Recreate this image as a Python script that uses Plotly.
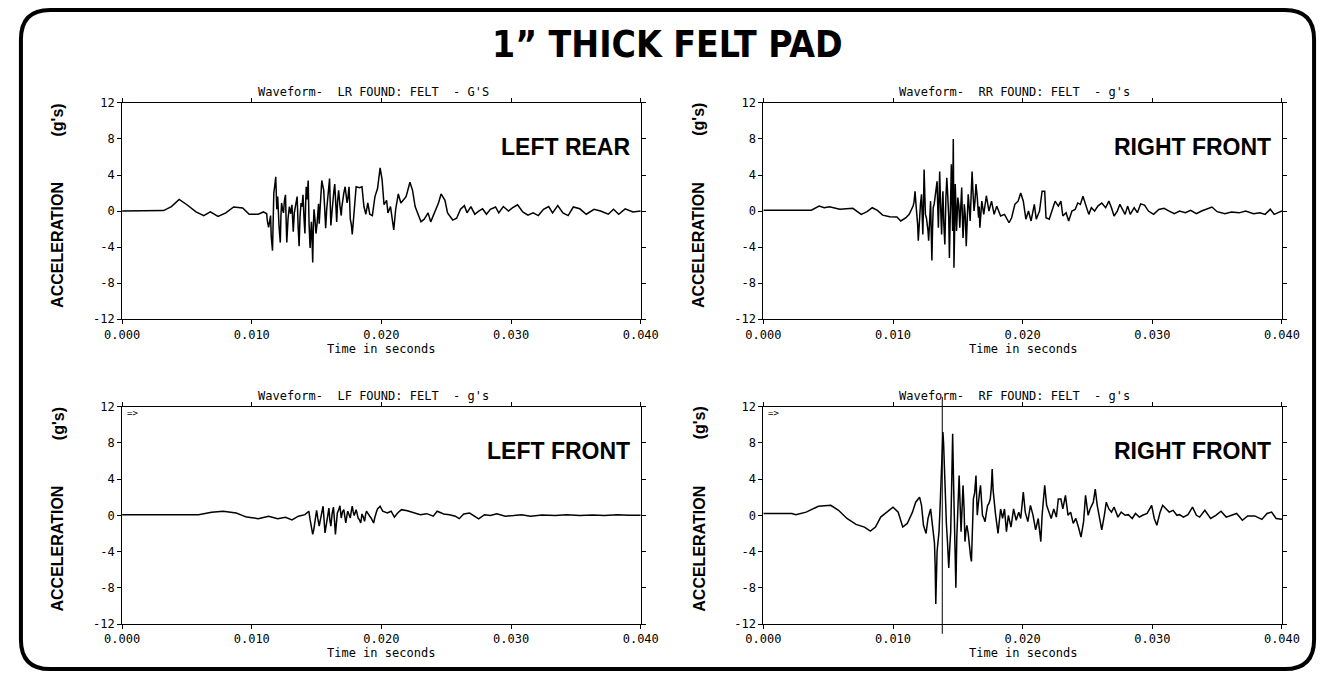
import plotly.graph_objects as go

# ---------------- data (time in ms, acceleration in g) ----------------
LR_T_MS = [0, 3.2, 3.8, 4.4, 5.0, 5.7, 6.3, 6.8, 7.4, 8.0, 8.6, 9.3, 9.8, 10.5, 10.9, 11.2, 11.3, 11.45, 11.6, 11.7,
           11.85, 12.0, 12.1, 12.2, 12.3, 12.45, 12.6, 12.7, 12.9, 13.1, 13.2, 13.35, 13.5, 13.65, 13.8, 13.95, 14.1,
           14.2, 14.35, 14.5, 14.6, 14.7, 14.8, 14.95, 15.1, 15.2, 15.4, 15.55, 15.7, 15.85, 16.0, 16.1, 16.25, 16.4,
           16.55, 16.7, 16.9, 17.0, 17.2, 17.35, 17.5, 17.6, 17.75, 17.9, 18.05, 18.3, 18.5, 18.65, 18.8, 18.95, 19.1,
           19.3, 19.5, 19.7, 19.9, 20.05, 20.2, 20.4, 20.5, 20.7, 20.95, 21.1, 21.3, 21.5, 21.7, 21.9, 22.2, 22.4, 22.6,
           22.85, 23.05, 23.3, 23.6, 23.8, 24.1, 24.4, 24.6, 24.9, 25.1, 25.5, 25.8, 26.1, 26.4, 26.6, 26.9, 27.2, 27.5,
           27.8, 28.1, 28.4, 28.8, 29.05, 29.4, 29.8, 30.1, 30.5, 30.9, 31.3, 31.7, 32.1, 32.5, 32.9, 33.2, 33.6, 34.0,
           34.4, 34.8, 35.3, 35.8, 36.4, 36.9, 37.5, 37.9, 38.3, 38.8, 39.4, 40.0]
LR_G = [0, 0.05, 0.5, 1.3, 0.7, -0.1, -0.5, -0.1, -0.6, -0.2, 0.45, 0.35, -0.35, -0.35, -0.1, -1.1, -1.8, -0.5, -4.4, 2.0,
        3.8, 1.6, -1.6, -3.5, 0.9, -0.2, 1.8, -3.5, 0.5, 0.7, -2.3, 0.5, 1.6, -3.9, 0.9, 1.8, -2.5,
        2.7, 3.4, -4.1, -1.2, -5.7, 0.2, -2.5, -0.2, -1.4, 3.4, 2.3, -1.9, 1.6, 3.6, -1.6, 1.6, 3.0,
        -1.2, 2.3, -0.5, 1.2, 2.7, 0.9, 2.7, -0.9, -2.6, -0.2, 2.7, 2.6, 2.7, 0.5, -0.35, 0.9, -0.35,
        -0.5, 1.6, 2.5, 4.8, 3.5, 0.7, 1.2, -0.2, 0.5, -2.1, 0.2, 1.9, 0.9, 1.2, 1.6, 3.2, 2.3, 0.5,
        -0.5, -1.2, -0.9, -0.2, -1.2, -0.2, 0.9, 1.9, 1.2, -0.2, -1.0, -0.8, 0.2, 0.6, -0.2, 0.5, -0.35, 0.0,
        0.25, -0.35, 0.2, 0.45, -0.2, 0.5, 0.0, 0.35, 0.7, -0.1, -0.45, -0.2, -0.5, 0.2, 0.5, -0.2, 0.6, -0.2,
        -0.5, 0.45, 0.25, -0.35, 0.2, 0.0, -0.35, 0.2, -0.35, 0.25, -0.1, 0.0]
# finer oscillations read inside the dense band of the LR trace
LR_DETAIL_T_MS = [11.15, 11.5, 11.65, 11.78, 11.93, 12.15, 12.25, 12.38, 12.52, 12.65, 12.8, 13.0, 13.15, 13.28,
                  13.42, 13.58, 13.72, 13.88, 14.03, 14.15, 14.28, 14.42, 14.55, 14.65, 14.75, 14.88, 15.03, 15.15,
                  15.3, 15.48, 15.62, 15.78, 15.93, 16.05, 16.18, 16.33, 16.48, 16.62, 16.8, 16.95, 17.1, 17.28,
                  17.42, 17.55, 17.68, 17.83, 17.98]
LR_DETAIL_G = [-0.3, -2.8, -1.0, 2.9, 0.2, -2.7, -0.5, 0.1, 1.2, -1.0, -0.8, -0.3, -0.8, -0.2,
               0.9, -1.9, -0.7, 0.5, -0.8, 0.6, 1.3, -1.5, -2.5, -3.2, -1.8, -1.0, -1.5, 0.8,
               1.5, 2.8, 0.4, 0.2, 2.6, 1.0, -0.2, 2.2, 0.8, 1.1, 0.6, 0.5, 2.0, 1.8,
               1.5, 1.0, -1.5, -1.2, 1.5]

RR_T_MS = [0, 3.7, 4.3, 4.7, 5.1, 5.9, 6.9, 7.55, 8.0, 8.4, 8.8, 9.2, 9.75, 10.3, 10.6, 11.0, 11.25, 11.55, 11.7, 11.85,
           11.95, 12.05, 12.2, 12.3, 12.4, 12.5, 12.65, 12.75, 12.9, 13.0, 13.1, 13.25, 13.4, 13.5, 13.6, 13.75, 13.85,
           14.0, 14.15, 14.3, 14.35, 14.5, 14.6, 14.65, 14.7, 14.8, 14.9, 15.0, 15.15, 15.3, 15.4, 15.5, 15.65, 15.8,
           15.95, 16.1, 16.25, 16.4, 16.6, 16.7, 16.85, 17.0, 17.2, 17.4, 17.6, 17.8, 18.0, 18.3, 18.6, 18.95, 19.15,
           19.4, 19.65, 19.85, 20.05, 20.25, 20.45, 20.65, 20.9, 21.05, 21.3, 21.5, 21.7, 21.8, 22.05, 22.3, 22.5, 22.75,
           22.95, 23.1, 23.35, 23.55, 23.8, 24.05, 24.25, 24.45, 24.65, 24.85, 25.1, 25.3, 25.55, 25.8, 26.1, 26.4,
           26.65, 26.85, 27.05, 27.3, 27.5, 27.7, 27.9, 28.1, 28.3, 28.6, 28.85, 29.1, 29.4, 29.7, 30.1, 30.5, 30.9,
           31.3, 31.7, 32.1, 32.55, 32.95, 33.4, 33.8, 34.2, 34.6, 35.0, 35.6, 36.1, 36.7, 37.2, 37.8, 38.3, 38.7,
           39.1, 39.4, 40.0]
RR_G = [0.1, 0.1, 0.55, 0.37, 0.48, 0.2, 0.3, -0.37, -0.07, 0.37, 0.07, -0.45, -0.63, -0.67, -1.1, -0.74, -0.37, 0.55, 2.2, -0.37,
        -3.3, -0.37, 1.85, -2.6, 4.6, -0.37, -1.5, -3.3, 1.1, -5.5, 0.37, 1.5, 3.3, -1.85, 4.4, -2.6, 2.2,
        -3.7, 3.7, -0.74, -5.2, 5.2, -2.2, 8.0, -6.3, 3.0, -2.2, 1.5, -1.85, 2.6, -3.0, 0.74, -3.9, 1.85,
        -1.1, 4.4, 0.0, 3.0, -0.74, -1.85, 1.1, -0.37, 1.7, 0.0, 1.1, -0.37, 0.55, -0.55, -0.37, -1.3, -0.74,
        0.75, 1.1, 2.0, 1.1, -0.9, 0.0, -1.1, 0.74, -0.9, 0.0, 2.2, 2.2, -0.74, -0.9, 0.37, 1.1, 0.55,
        1.1, -0.55, -0.18, -1.1, 0.0, 0.18, 0.9, 0.74, 1.65, 0.74, -0.37, 0.37, 0.0, 0.55, 0.9, 0.37,
        1.1, 0.37, -0.55, 0.0, 0.75, 0.18, -0.37, 0.55, -0.37, 0.37, -0.18, 0.8, 0.67, 0.0, -0.37, 0.18, 0.3,
        0.0, -0.3, 0.0, -0.18, 0.07, -0.3, 0.0, 0.26, 0.45, -0.07, -0.3, -0.1, -0.2, 0.0, -0.3, -0.18, -0.37,
        0.2, -0.37, 0.0]
RR_DETAIL_T_MS = [11.62, 11.78, 11.9, 12.0, 12.12, 12.25, 12.35, 12.45, 12.58, 12.7, 12.82, 12.95, 13.05, 13.18,
                  13.32, 13.45, 13.55, 13.68, 13.8, 13.92, 14.08, 14.22, 14.4, 14.55, 14.62, 14.68, 14.75, 14.85,
                  14.95, 15.08, 15.22, 15.35, 15.45, 15.58, 15.72, 15.88, 16.02, 16.18, 16.32, 16.5, 16.65]
RR_DETAIL_G = [1.0, 0.6, -1.5, -2.0, 0.8, -0.8, 0.6, 2.0, -0.8, -2.2, -0.6, -2.5, -2.0, 0.8,
               2.2, 0.5, 1.2, 0.2, 0.3, -1.5, 1.5, 1.8, -1.5, 1.0, 3.5, 1.0, -2.5, 0.8,
               -0.5, 0.6, 0.3, -0.5, -1.5, -0.6, -1.2, 0.4, 1.5, 1.8, 1.0, 1.5, 0.5]

LF_T_MS = [0, 5.9, 6.9, 7.8, 8.8, 9.6, 10.5, 11.3, 12.0, 12.6, 13.1, 13.6, 14.1, 14.4, 14.5, 14.7, 14.85, 15.0, 15.2,
           15.3, 15.5, 15.65, 15.8, 15.95, 16.1, 16.3, 16.45, 16.6, 16.8, 16.9, 17.1, 17.25, 17.4, 17.6, 17.75, 17.9,
           18.05, 18.2, 18.4, 18.5, 18.7, 18.85, 19.0, 19.2, 19.4, 19.55, 19.7, 19.9, 20.1, 20.45, 20.75, 21.0, 21.25,
           21.55, 22.0, 22.5, 23.0, 23.5, 24.0, 24.3, 24.8, 25.25, 25.7, 26.0, 26.35, 26.8, 27.15, 27.5, 27.95, 28.4,
           28.9, 29.55, 30.2, 30.8, 31.5, 32.4, 33.4, 34.3, 35.3, 36.3, 37.2, 38.2, 39.1, 40.0]
LF_G = [0.05, 0.05, 0.33, 0.45, 0.25, -0.2, -0.37, -0.1, -0.37, -0.22, -0.5, -0.1, 0.07, 0.45, -0.48, -2.1, -0.85, 0.55, -1.2,
        -0.3, 1.0, -1.95, -0.48, 0.8, -1.2, 0.9, -2.1, 0.25, 1.05, -0.3, 0.62, -0.85, 0.45, -0.3, 1.0, -0.03,
        0.62, -0.3, -0.85, 0.15, -0.66, 0.45, 0.07, -0.3, -0.85, 0.25, 0.7, 1.0, 0.45, 0.25, 0.45, -0.2, 0.25,
        0.62, 0.5, 0.25, 0.07, 0.18, -0.1, 0.45, 0.15, 0.07, -0.1, -0.37, 0.15, 0.25, -0.1, -0.4, 0.07, -0.03,
        0.18, -0.1, -0.03, 0.07, -0.1, 0.03, -0.03, 0.07, -0.03, 0.03, -0.03, 0.07, 0.0, 0.0]
LF_DETAIL_T_MS = [14.6, 14.78, 14.92, 15.1, 15.25, 15.4, 15.58, 15.72, 15.88, 16.02, 16.2, 16.38, 16.52, 16.7, 17.0,
                  17.18, 17.32, 17.5, 17.68, 17.82, 18.12, 18.3, 18.45, 18.6, 18.78, 18.92, 19.1, 19.3, 19.48,
                  19.62, 19.8]
LF_DETAIL_G = [-1.2, -1.6, -0.2, -0.4, -0.8, 0.3, -1.0, -1.3, 0.1, -0.5, 0.2, -0.6, -1.0, 0.6, 0.4,
               -0.3, -0.2, 0.1, 0.5, 0.4, 0.2, -0.5, -0.4, -0.2, 0.1, 0.3, -0.1, -0.6, -0.3,
               0.4, 0.9]

RF_T_MS = [0, 2.2, 2.5, 3.3, 4.25, 5.2, 5.8, 6.45, 7.15, 7.8, 8.25, 8.65, 9.05, 9.5, 10.0, 10.4, 10.75, 11.1, 11.5, 11.75,
           12.05, 12.2, 12.35, 12.55, 12.7, 12.9, 13.05, 13.2, 13.3, 13.55, 13.7, 13.85, 13.95, 14.05, 14.2, 14.3,
           14.45, 14.6, 14.75, 14.85, 15.0, 15.1, 15.25, 15.4, 15.55, 15.7, 15.9, 16.05, 16.2, 16.4, 16.5, 16.6,
           16.75, 16.9, 17.1, 17.3, 17.5, 17.65, 17.8, 18.0, 18.1, 18.3, 18.45, 18.6, 18.75, 18.9, 19.1, 19.3, 19.5,
           19.7, 19.85, 20.05, 20.2, 20.4, 20.6, 20.8, 21.0, 21.2, 21.4, 21.5, 21.7, 21.85, 22.05, 22.2, 22.4, 22.6,
           22.75, 22.95, 23.1, 23.3, 23.5, 23.7, 23.9, 24.1, 24.3, 24.5, 24.7, 24.85, 25.05, 25.2, 25.45, 25.6, 25.75,
           25.95, 26.1, 26.3, 26.45, 26.65, 26.85, 27.05, 27.35, 27.6, 27.9, 28.15, 28.45, 28.7, 29.0, 29.25, 29.6,
           29.95, 30.15, 30.35, 30.6, 30.8, 31.05, 31.3, 31.6, 31.9, 32.1, 32.4, 32.75, 33.1, 33.4, 33.65, 34.05,
           34.5, 34.9, 35.3, 35.7, 36.1, 36.5, 36.95, 37.35, 37.9, 38.45, 38.85, 39.2, 39.55, 40.0]
RF_G = [0.2, 0.2, 0.07, 0.35, 1.0, 1.1, 0.55, -0.35, -1.0, -1.3, -1.75, -1.3, -0.2, 0.3, 0.9, 0.35, -1.3, -0.9, 0.35, 1.45,
        2.0, 1.1, -1.1, -2.0, -0.35, 0.7, -0.9, -3.1, -9.8, -1.8, 3.3, 9.2, 5.5, 0.0, -2.9, -5.8,
        -1.8, 9.0, -1.1, -8.0, 1.8, 4.4, -1.8, 3.3, -2.9, -1.1, -3.8, -5.1, 1.8, 4.4, 0.0, 1.8,
        3.3, 0.0, -0.7, 1.1, 1.8, 5.1, 1.1, -0.9, -2.0, 0.7, -0.35, 0.7, -1.8, 0.0, -1.3, 0.7, -0.55,
        0.35, -0.35, 2.55, 0.35, -0.7, 1.1, 0.0, -1.6, -0.35, -2.9, 0.0, 3.3, 1.1, 0.35, -0.35, 0.7, -0.2,
        1.8, 1.8, 0.7, 2.2, 0.0, 0.35, -0.9, -0.35, -1.3, -2.4, -0.7, 2.2, 0.0, 0.7, 1.45, 2.9, 1.1,
        -0.35, -1.6, 0.0, 1.45, 0.7, 0.35, 0.9, -0.2, 0.35, 0.0, 0.07, -0.35, 0.2, -0.2, 0.0, 0.2,
        1.1, -0.35, -1.1, 0.35, 1.1, 0.7, 0.35, 0.55, 0.0, 0.07, -0.2, 0.07, 0.9, 0.0, -0.2, 0.55,
        -0.35, 0.0, 0.45, -0.2, 0.0, 0.2, -0.55, -0.07, -0.07, -0.45, 0.2, 0.35, -0.35, -0.45]
RF_DETAIL_T_MS = [13.25, 13.4, 13.62, 13.78, 13.9, 14.0, 14.12, 14.25, 14.38, 14.52, 14.56, 14.68, 14.8, 14.92,
                  15.05, 15.18, 15.32, 15.48, 15.62, 15.8, 15.98, 16.12, 16.3, 16.45, 16.55, 16.68, 16.82, 17.0,
                  17.2, 17.4, 17.58, 17.72, 17.9]
RF_DETAIL_G = [-5.5, -4.0, 0.5, 6.5, 8.0, 2.5, -1.0, -4.0, -3.5, 3.0, 6.0, 3.0, -5.0, -2.5,
               3.5, 1.0, 0.5, 0.8, -1.8, -2.0, -4.5, -2.0, 2.5, 2.2, 0.8, 2.6, 1.5, -0.3,
               0.3, 1.3, 3.0, 2.8, 0.2]

PANEL_TITLES = ["Waveform-  LR FOUND: FELT  - G'S", "Waveform-  RR FOUND: FELT  - g's",
                "Waveform-  LF FOUND: FELT  - g's", "Waveform-  RF FOUND: FELT  - g's"]
PANEL_LABELS = ["LEFT REAR", "RIGHT FRONT", "LEFT FRONT", "RIGHT FRONT"]
X_TICKS = [0, 0.01, 0.02, 0.03, 0.04]
X_TICK_TEXT = ["0.000", "0.010", "0.020", "0.030", "0.040"]
Y_TICKS = [-12, -8, -4, 0, 4, 8, 12]
Y_TICK_TEXT = ["-12", "-8", "-4", "0", "4", "8", "12"]
CURSOR_T = 0.0138


def merged(t_main, g_main, t_det, g_det):
    pairs = sorted(zip(list(t_main) + list(t_det), list(g_main) + list(g_det)))
    return [p[0] / 1000 for p in pairs], [p[1] for p in pairs]


# ---------------- layout geometry ----------------
W, H = 1335, 679
def px(x):
    return x / W
def py(y):
    return 1 - y / H

COLS = [(107, 640), (766, 1299)]
ROWS = [(98, 318.7), (408, 630)]
MONO = "DejaVu Sans Mono, Liberation Mono, monospace"
SANS = "Liberation Sans, Arial, sans-serif"
NARROW = "Liberation Sans Narrow, DejaVu Sans Condensed, Roboto Condensed, Liberation Sans, sans-serif"

fig = go.Figure()
series = [merged(LR_T_MS, LR_G, LR_DETAIL_T_MS, LR_DETAIL_G),
          merged(RR_T_MS, RR_G, RR_DETAIL_T_MS, RR_DETAIL_G),
          merged(LF_T_MS, LF_G, LF_DETAIL_T_MS, LF_DETAIL_G),
          merged(RF_T_MS, RF_G, RF_DETAIL_T_MS, RF_DETAIL_G)]
annotations = []
layout_axes = {}
for i, (ts, g) in enumerate(series):
    r, c = divmod(i, 2)
    x0, x1 = COLS[c]
    ytop, ybot = ROWS[r]
    n = "" if i == 0 else str(i + 1)
    fig.add_trace(go.Scatter(x=ts, y=g, mode="lines",
                             line=dict(color="black", width=1.5),
                             xaxis="x" + n, yaxis="y" + n, showlegend=False, hoverinfo="skip"))
    layout_axes["xaxis" + n] = dict(domain=[px(x0), px(x1)], anchor="y" + n, range=[0, 0.04],
                                     tickvals=X_TICKS, ticktext=X_TICK_TEXT, ticks="outside", ticklen=4,
                                     tickcolor="black", showline=True, linecolor="black", linewidth=1,
                                     mirror="ticks", showgrid=False, zeroline=False,
                                     tickfont=dict(family=MONO, size=12, color="black"))
    layout_axes["yaxis" + n] = dict(domain=[py(ybot), py(ytop)], anchor="x" + n, range=[-12, 12],
                                     tickvals=Y_TICKS, ticktext=Y_TICK_TEXT, ticks="outside", ticklen=4,
                                     tickcolor="black", showline=True, linecolor="black", linewidth=1,
                                     mirror="ticks", showgrid=False, zeroline=False,
                                     tickfont=dict(family=MONO, size=12, color="black"))
    annotations.append(dict(x=px((x0 + x1) / 2 - 8), y=py(ytop - 2), xref="paper", yref="paper",
                            text=PANEL_TITLES[i], showarrow=False, xanchor="center", yanchor="bottom",
                            font=dict(family=MONO, size=12, color="black")))
    annotations.append(dict(x=px((x0 + x1) / 2), y=py(ybot + 30), xref="paper", yref="paper",
                            text="Time in seconds", showarrow=False, xanchor="center", yanchor="middle",
                            font=dict(family=MONO, size=12, color="black")))
    axc = x0 - 66
    annotations.append(dict(x=px(axc), y=py(ytop + 145), xref="paper", yref="paper",
                            text="<b>ACCELERATION</b>", textangle=-90, showarrow=False,
                            xanchor="center", yanchor="middle",
                            font=dict(family=SANS, size=16, color="black")))
    annotations.append(dict(x=px(axc), y=py(ytop + 17), xref="paper", yref="paper",
                            text="<b>(g's)</b>", textangle=-90, showarrow=False,
                            xanchor="center", yanchor="middle",
                            font=dict(family=SANS, size=16, color="black")))
    annotations.append(dict(x=px(x1 - 9), y=7.1, xref="paper", yref="y" + n,
                            text="<b>" + PANEL_LABELS[i] + "</b>", showarrow=False,
                            xanchor="right", yanchor="middle",
                            font=dict(family=SANS, size=23, color="black")))
    if r == 1:
        annotations.append(dict(x=0.0002, y=11.3, xref="x" + n, yref="y" + n, text="=>",
                                showarrow=False, xanchor="left", yanchor="middle",
                                font=dict(family=MONO, size=9, color="black")))

annotations.append(dict(x=px(668), y=py(38), xref="paper", yref="paper",
                        text="<b>1\u201d THICK FELT PAD</b>", showarrow=False,
                        xanchor="center", yanchor="middle",
                        font=dict(family=NARROW, size=37, color="black")))

# rounded frame
L, R, T, B, rad = 3, 1332, 3, 676, 30
def P(x, y):
    return f"{px(x):.5f},{py(y):.5f}"
frame = (f"M {P(L + rad, T)} L {P(R - rad, T)} Q {P(R, T)} {P(R, T + rad)} "
         f"L {P(R, B - rad)} Q {P(R, B)} {P(R - rad, B)} L {P(L + rad, B)} Q {P(L, B)} {P(L, B - rad)} "
         f"L {P(L, T + rad)} Q {P(L, T)} {P(L + rad, T)} Z")
shapes = [dict(type="path", path=frame, xref="paper", yref="paper", line=dict(color="black", width=4)),
          dict(type="line", xref="x4", yref="paper", x0=CURSOR_T, x1=CURSOR_T, y0=py(398), y1=py(640),
               line=dict(color="black", width=1))]

fig.update_layout(width=W, height=H, margin=dict(l=0, r=0, t=0, b=0), paper_bgcolor="white",
                  plot_bgcolor="white", annotations=annotations, shapes=shapes, **layout_axes)
fig.write_html("out.html")
